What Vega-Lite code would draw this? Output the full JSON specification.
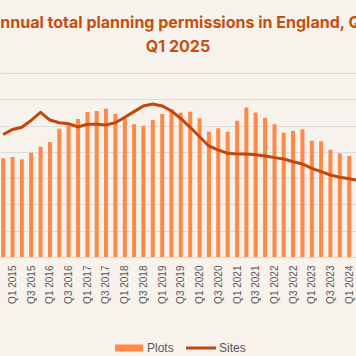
{
  "$schema": "https://vega.github.io/schema/vega-lite/v6.json",
  "autosize": {"type": "none"},
  "width": 356,
  "height": 184,
  "padding": {"top": 73, "left": 0, "right": 0, "bottom": 99},
  "background": "#F7F2EC",
  "title": {
    "text": ["Annual total planning permissions in England, Q1", "Q1 2025"],
    "anchor": "middle",
    "frame": "group",
    "font": "Inter",
    "fontSize": 16,
    "fontWeight": "bold",
    "color": "#C4500F",
    "lineHeight": 24,
    "offset": 18
  },
  "data": {
    "values": [
      {"date": "2014-10-01", "plots": 187700, "sites": 9320},
      {"date": "2015-01-01", "plots": 190200, "sites": 9700},
      {"date": "2015-04-01", "plots": 185800, "sites": 9870},
      {"date": "2015-07-01", "plots": 198400, "sites": 10390},
      {"date": "2015-10-01", "plots": 209800, "sites": 11000},
      {"date": "2016-01-01", "plots": 218700, "sites": 10420},
      {"date": "2016-04-01", "plots": 244000, "sites": 10220},
      {"date": "2016-07-01", "plots": 250500, "sites": 10140},
      {"date": "2016-10-01", "plots": 262500, "sites": 9890},
      {"date": "2017-01-01", "plots": 275800, "sites": 10100},
      {"date": "2017-04-01", "plots": 277700, "sites": 10100},
      {"date": "2017-07-01", "plots": 282100, "sites": 10040},
      {"date": "2017-10-01", "plots": 272000, "sites": 10220},
      {"date": "2018-01-01", "plots": 263800, "sites": 10630},
      {"date": "2018-04-01", "plots": 252400, "sites": 11060},
      {"date": "2018-07-01", "plots": 249700, "sites": 11490},
      {"date": "2018-10-01", "plots": 260600, "sites": 11640},
      {"date": "2019-01-01", "plots": 272000, "sites": 11490},
      {"date": "2019-04-01", "plots": 280900, "sites": 11110},
      {"date": "2019-07-01", "plots": 274500, "sites": 10540},
      {"date": "2019-10-01", "plots": 276400, "sites": 9870},
      {"date": "2020-01-01", "plots": 263800, "sites": 9150},
      {"date": "2020-04-01", "plots": 238300, "sites": 8450},
      {"date": "2020-07-01", "plots": 244800, "sites": 8140},
      {"date": "2020-10-01", "plots": 238300, "sites": 7890},
      {"date": "2021-01-01", "plots": 259200, "sites": 7840},
      {"date": "2021-04-01", "plots": 284300, "sites": 7840},
      {"date": "2021-07-01", "plots": 274800, "sites": 7780},
      {"date": "2021-10-01", "plots": 264800, "sites": 7690},
      {"date": "2022-01-01", "plots": 252400, "sites": 7560},
      {"date": "2022-04-01", "plots": 236400, "sites": 7460},
      {"date": "2022-07-01", "plots": 239700, "sites": 7250},
      {"date": "2022-10-01", "plots": 242900, "sites": 7080},
      {"date": "2023-01-01", "plots": 221200, "sites": 6750},
      {"date": "2023-04-01", "plots": 220100, "sites": 6490},
      {"date": "2023-07-01", "plots": 204100, "sites": 6240},
      {"date": "2023-10-01", "plots": 197200, "sites": 6060},
      {"date": "2024-01-01", "plots": 192100, "sites": 5960},
      {"date": "2024-04-01", "plots": 188000, "sites": 5820}
    ]
  },
  "encoding": {
    "x": {
      "field": "date",
      "type": "temporal",
      "scale": {
        "type": "utc",
        "domain": [
          {"year": 2014, "month": 10, "date": 19, "utc": true},
          {"year": 2024, "month": 1, "date": 18, "utc": true}
        ]
      },
      "axis": {
        "title": null,
        "format": "Q%q %Y",
        "tickCount": {"interval": "month", "step": 6},
        "labelAngle": 270,
        "labelFont": "Liberation Sans",
        "labelFontSize": 10,
        "labelColor": "#595959",
        "labelPadding": 8,
        "labelFlush": false,
        "labelOverlap": false,
        "ticks": false,
        "grid": false,
        "domainColor": "#D9D9D9",
        "domainWidth": 1
      }
    }
  },
  "layer": [
    {
      "mark": {"type": "bar", "size": 4, "clip": true},
      "encoding": {
        "y": {
          "field": "plots",
          "type": "quantitative",
          "scale": {"domain": [0, 350000]},
          "axis": {
            "title": null,
            "values": [0, 50000, 100000, 150000, 200000, 250000, 300000, 350000],
            "labels": false,
            "ticks": false,
            "domain": false,
            "grid": true,
            "gridColor": "#DDDDDD",
            "gridWidth": 1
          }
        },
        "color": {
          "datum": "Plots",
          "type": "nominal",
          "scale": {"domain": ["Plots", "Sites"], "range": ["#FF8A48", "#C2470A"]},
          "legend": {
            "title": null,
            "orient": "none",
            "legendX": 114,
            "legendY": 260,
            "direction": "horizontal",
            "padding": 0,
            "symbolSize": 900,
            "labelFont": "Liberation Sans",
            "labelFontSize": 12,
            "labelColor": "#595959",
            "labelOffset": 3,
            "columnPadding": 12,
            "encode": {
              "symbols": {
                "update": {
                  "shape": {"signal": "datum.value === 'Plots' ? 'M-0.933,-0.233H0.933V0.233H-0.933Z' : 'M-1,-0.1H1V0.1H-1Z'"},
                  "fill": {"signal": "datum.value === 'Plots' ? '#FF8A48' : '#C2470A'"},
                  "stroke": {"value": "transparent"},
                  "strokeWidth": {"value": 0},
                  "opacity": {"value": 1},
                  "size": {"value": 900}
                }
              }
            }
          }
        }
      }
    },
    {
      "mark": {"type": "line", "strokeWidth": 3, "clip": true},
      "encoding": {
        "y": {
          "field": "sites",
          "type": "quantitative",
          "scale": {"domain": [0, 14000]},
          "axis": null
        },
        "color": {
          "datum": "Sites",
          "type": "nominal",
          "scale": {"domain": ["Plots", "Sites"], "range": ["#FF8A48", "#C2470A"]}
        }
      }
    }
  ],
  "resolve": {"scale": {"y": "independent"}},
  "config": {
    "view": {"stroke": null}
  }
}
